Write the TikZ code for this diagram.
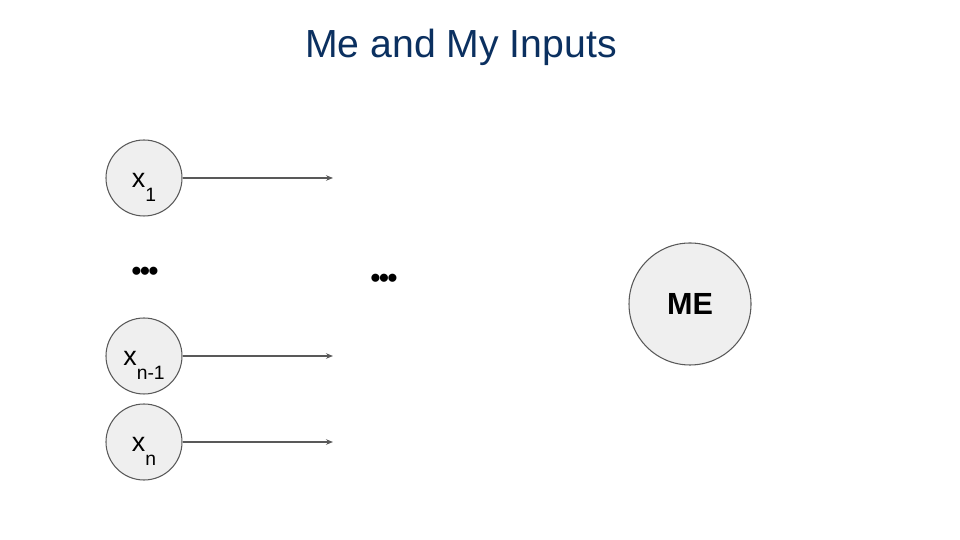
\documentclass[tikz,border=0pt]{standalone}
\usepackage{fontspec}
\setmainfont{Liberation Sans}
\usetikzlibrary{arrows.meta, positioning}
\definecolor{titlenavy}{HTML}{0B3060}
\definecolor{ringgray}{HTML}{595959}
\definecolor{ballfill}{HTML}{EFEFEF}
\definecolor{feedgray}{HTML}{595959}

\newcommand{\subidx}[1]{\raisebox{-7.6pt}[0pt][0pt]{\fontsize{11}{13}\selectfont #1}}

\tikzset{
  inputball/.style={circle, draw=ringgray, fill=ballfill, line width=0.6pt, minimum size=1.52cm, inner sep=0pt,
    font=\fontsize{15.3}{18}\selectfont, text height=0.4cm, text depth=0pt},
  meball/.style={circle, draw=ringgray, fill=ballfill, line width=0.6pt, minimum size=2.44cm, inner sep=0pt,
    font=\fontsize{17.4}{21}\selectfont\bfseries},
  feed/.style={->, feedgray, line width=0.6pt},
  ellip/.style={font=\fontsize{16}{18}\selectfont\bfseries, inner sep=0pt}
}

\begin{document}
\begin{tikzpicture}[>={Stealth[length=1.4mm, width=1.1mm]}]

% Canvas
\useasboundingbox (0,0) rectangle (19.2,10.8);
\fill[white] (0,0) rectangle (19.2,10.8);

% Title
\node[font=\fontsize{22.3}{27}\selectfont, text=titlenavy, anchor=base] (title) at (9.22,9.65) {Me and My Inputs};

% Inputs
\node[inputball] (x1) at (2.88,7.24) {x\subidx{1}};
\node[inputball] (xm) at (2.88,3.68) {x\subidx{n-1}};
\node[inputball] (xn) at (2.88,1.96) {x\subidx{n}};

% Gaps
\node[ellip] (dl) at (2.9,5.32) {•\kern-0.8pt•\kern-0.8pt•};
\node[ellip] (dr) at (7.68,5.18) {•\kern-0.8pt•\kern-0.8pt•};

% Me
\node[meball] (me) at (13.8,4.72) {ME};

% Arrow ends
\coordinate (e1) at (6.66,7.24);
\coordinate (em) at (6.66,3.68);
\coordinate (en) at (6.66,1.96);

% Arrows
\draw[feed] (x1) -- (e1);
\draw[feed] (xm) -- (em);
\draw[feed] (xn) -- (en);

\end{tikzpicture}
\end{document}
